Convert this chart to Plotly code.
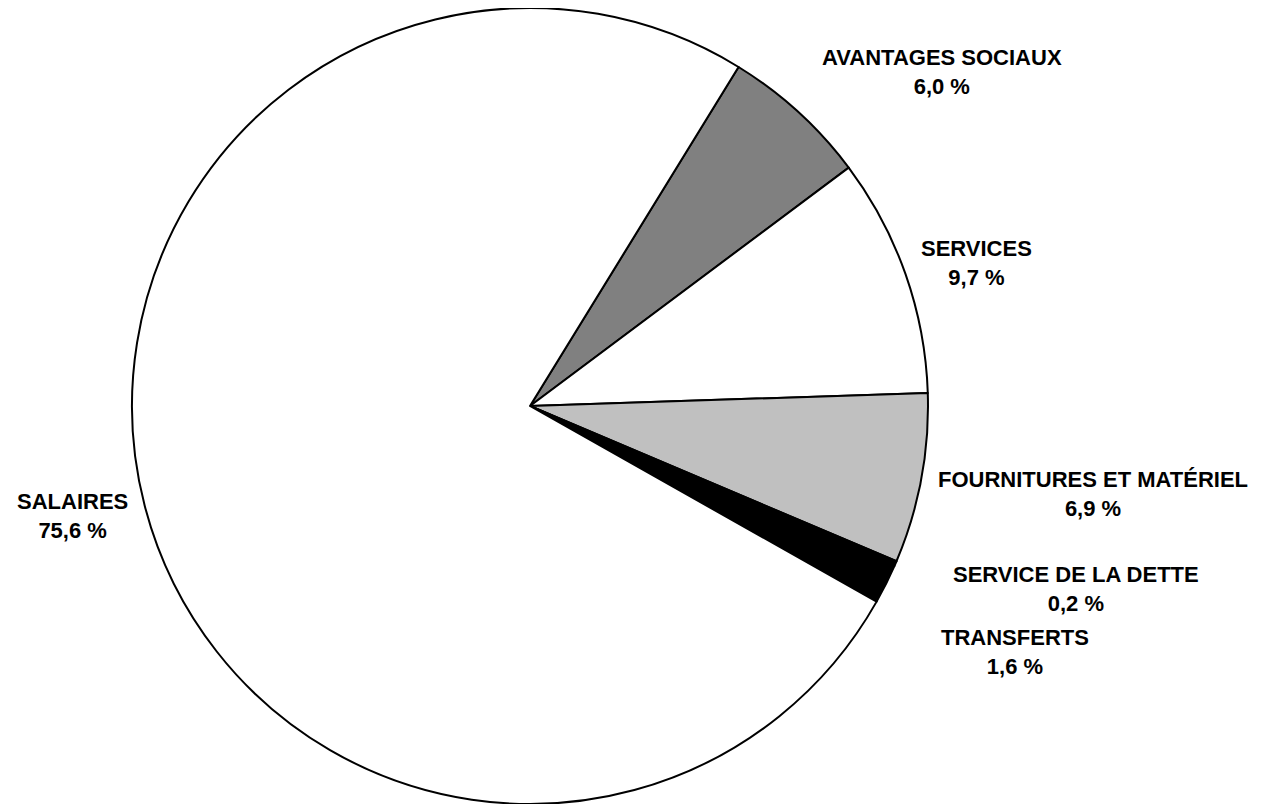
import plotly.graph_objects as go

# Data
categories = ["AVANTAGES SOCIAUX", "SERVICES", "FOURNITURES ET MATÉRIEL",
              "SERVICE DE LA DETTE", "TRANSFERTS", "SALAIRES"]
values = [6.0, 9.7, 6.9, 0.2, 1.6, 75.6]
colors = ["#808080", "#FFFFFF", "#C0C0C0", "#000000", "#000000", "#FFFFFF"]

# label placement (screen px) for each category
label_x = [942, 976, 1093, 1076, 1015, 72]
label_y = [72, 263, 494, 589, 652, 516]

W, H = 1263, 804
OFF = 8  # default page body margin

fig = go.Figure()
fig.add_trace(go.Pie(
    labels=categories,
    values=values,
    sort=False,
    direction="clockwise",
    rotation=31.6,
    marker=dict(colors=colors, line=dict(color="#000000", width=2)),
    textinfo="none",
    hoverinfo="label+percent",
    showlegend=False,
    domain=dict(x=[(132 - OFF) / W, (928 - OFF) / W], y=[1 - 796 / H, 1]),
))

for cat, v, lx, ly in zip(categories, values, label_x, label_y):
    txt = f"{cat}<br>{v:.1f}".replace(".", ",") + " %"
    fig.add_annotation(
        x=(lx - OFF) / W, y=1 - (ly - OFF) / H, xref="paper", yref="paper",
        text=f"<b>{txt}</b>", showarrow=False,
        xanchor="center", yanchor="middle", align="center",
        font=dict(family="Liberation Sans, Arial", size=22, color="#000000"),
    )

fig.update_layout(
    width=W, height=H,
    margin=dict(l=0, r=0, t=0, b=0),
    paper_bgcolor="#FFFFFF",
    plot_bgcolor="#FFFFFF",
)

fig.write_html("out.html")
